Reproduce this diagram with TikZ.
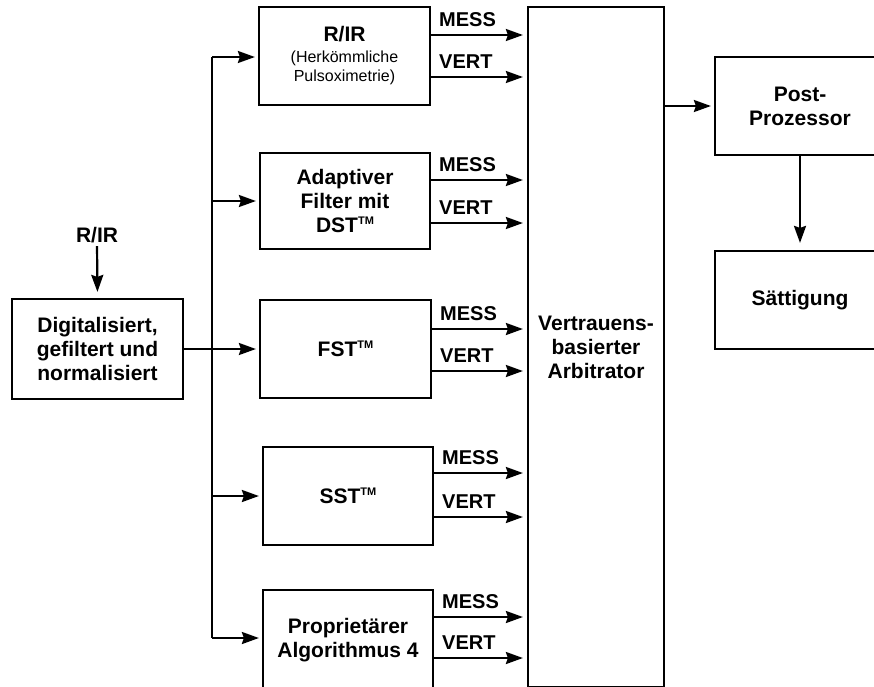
\documentclass[tikz,border=0pt]{standalone}
\usepackage{fontspec}
\setmainfont{Liberation Sans}
\usetikzlibrary{arrows.meta}
\newcommand{\bfnt}{\fontsize{21}{24}\selectfont\bfseries}
\newcommand{\lfnt}{\fontsize{20}{24}\selectfont\bfseries}
\newcommand{\smfnt}{\fontsize{16}{18}\selectfont\mdseries}
\newcommand{\tmark}{\raisebox{0.75ex}{\fontsize{11}{11}\selectfont TM}}
\begin{document}
\begin{tikzpicture}[x=1pt,y=-1pt,
  box/.style={draw, line width=2.2pt, inner sep=0pt, align=center, font=\bfnt},
  arr/.style={line width=2.2pt, -{Stealth[length=17pt,width=12pt,inset=2pt]}},
  ln/.style={line width=2.2pt},
  lbl/.style={font=\lfnt, inner sep=0pt, anchor=base west, xshift=7pt, yshift=9pt}]
\path[use as bounding box, clip] (0,0) rectangle (874,686);
\fill[white] (0,0) rectangle (874,686);

\node[box, minimum width=171pt, minimum height=98pt] (b1) at (344.5,56)
  {\raisebox{-3pt}{R/IR}\\{\smfnt (Herkömmliche}\\[-5pt]{\smfnt Pulsoximetrie)}};
\node[box, minimum width=170pt, minimum height=96pt] (b2) at (345,201) {Adaptiver\\Filter mit\\DST\tmark};
\node[box, minimum width=171pt, minimum height=98pt] (b3) at (345.5,349) {FST\tmark};
\node[box, minimum width=170pt, minimum height=98pt] (b4) at (348,496) {SST\tmark};
\node[box, minimum width=170pt, minimum height=100pt] (b5) at (348,640) {Proprietärer\\Algorithmus 4};
\node[box, minimum width=171pt, minimum height=100pt] (dig) at (97.5,349) {Digitalisiert,\\gefiltert und\\normalisiert};
\node[box, minimum width=136pt, minimum height=680pt] (arb) at (596,347) {Vertrauens-\\basierter\\Arbitrator};
\node[box, minimum width=170pt, minimum height=98pt] (post) at (800,106) {Post-\\Prozessor};
\node[box, minimum width=170pt, minimum height=98pt] (sat) at (800,300) {Sättigung};
\node[font=\bfnt, inner sep=0pt] (rir) at (97,235) {R/IR};

\draw[arr, shorten <=3pt, shorten >=6pt] (rir.south) -- (dig.north);
\draw[arr, shorten >=3pt] (dig) -- (b3);
\coordinate (busT) at (212,57);
\coordinate (busB) at (212,638);
\draw[ln] (busT) -- (busB);
\draw[arr, shorten >=3pt] (busT) -- (b1.west |- busT);
\draw[arr, shorten >=3pt] (busT |- b2.west) -- (b2.west);
\draw[arr, shorten >=3pt] (busT |- b4.west) -- (b4.west);
\draw[arr, shorten >=3pt] (busB) -- (b5.west |- busB);

\foreach \b/\m/\v in {b1/35/77, b2/180/223, b3/329/371, b4/473/517, b5/617/658} {
  \coordinate (m) at (0,\m);
  \coordinate (v) at (0,\v);
  \draw[arr, shorten >=4pt] (\b.east |- m) -- node[lbl, pos=0] {MESS} (arb.west |- m);
  \draw[arr, shorten >=4pt] (\b.east |- v) -- node[lbl, pos=0] {VERT} (arb.west |- v);
}

\draw[arr, shorten >=3pt] (arb.east |- post.west) -- (post.west);
\draw[arr, shorten >=7pt] (post.south) -- (sat.north);
\end{tikzpicture}
\end{document}
